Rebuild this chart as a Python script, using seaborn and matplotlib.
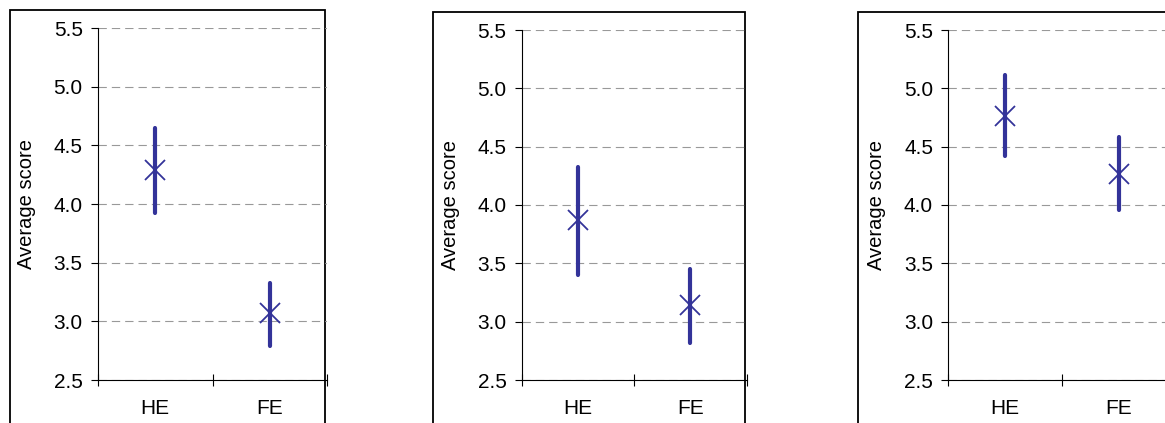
import matplotlib
matplotlib.use("Agg")
import matplotlib.pyplot as plt
from matplotlib.patches import Rectangle
from matplotlib.ticker import FixedLocator
import seaborn as sns
import pandas as pd

categories = ["HE", "FE"]
p1_mean = [4.29, 3.07]
p1_low = [3.92, 2.79]
p1_high = [4.65, 3.33]
p2_mean = [3.87, 3.14]
p2_low = [3.40, 2.82]
p2_high = [4.33, 3.45]
p3_mean = [4.76, 4.27]
p3_low = [4.42, 3.96]
p3_high = [5.11, 4.58]
y_ticks = [2.5, 3.0, 3.5, 4.0, 4.5, 5.0, 5.5]
y_label = "Average score"

panels = [(p1_mean, p1_low, p1_high), (p2_mean, p2_low, p2_high), (p3_mean, p3_low, p3_high)]

sns.set_theme(style="white")
plt.rcParams["font.family"] = ["Liberation Sans", "DejaVu Sans"]
plt.rcParams["lines.scale_dashes"] = False

W, H = 1165, 423
fig = plt.figure(figsize=(W / 100, H / 100), dpi=100)
fig.patch.set_facecolor("white")

# axes boxes in pixels: left, top, right, bottom
boxes = [(98, 28, 327, 380), (521.7, 30, 746.7, 380), (948.3, 30, 1176, 380)]
frames = [(10, 10, 325), (433, 12, 745), (857.7, 12, 1180)]
color = "#333399"

for (mean, low, high), (l, t, r, b), (fl, ft, fr) in zip(panels, boxes, frames):
    fig.add_artist(Rectangle((fl / W, -0.1), (fr - fl) / W, (H - ft) / H + 0.1,
                             transform=fig.transFigure, fill=False, lw=1.3,
                             ec="black", zorder=0))
    ax = fig.add_axes([l / W, (H - b) / H, (r - l) / W, (b - t) / H])
    ax.set_facecolor("none")
    rows = []
    for c, m, lo, hi in zip(categories, mean, low, high):
        for v in (lo, m, hi):
            rows.append({"cat": c, "val": v})
    df = pd.DataFrame(rows)
    sns.pointplot(data=df, x="cat", y="val", order=categories, estimator="median",
                  errorbar=("pi", 100), color=color, markers="x", linestyles="none",
                  markersize=15, markeredgewidth=1.3,
                  err_kws={"linewidth": 3.0, "solid_capstyle": "round"}, ax=ax,
                  zorder=3)
    ax.set_xlim(-0.5, 1.5)
    ax.set_ylim(2.5, 5.5)
    ax.set_yticks(y_ticks)
    ax.set_yticklabels([f"{v:.1f}" for v in y_ticks])
    ax.set_xticks([0, 1])
    ax.set_xticklabels(categories)
    ax.xaxis.set_minor_locator(FixedLocator([-0.5, 0.5, 1.5]))
    ax.tick_params(axis="x", which="major", length=0, pad=14, labelsize=15, colors="black")
    ax.tick_params(axis="x", which="minor", direction="inout", length=9, width=0.8,
                   color="black", bottom=True)
    ax.tick_params(axis="y", which="major", direction="out", length=5, width=0.8,
                   pad=6, labelsize=15, colors="black", left=True)
    ax.yaxis.grid(True, color="#999999", linestyle=(0, (6, 3.6)), linewidth=0.8)
    ax.xaxis.grid(False)
    ax.set_axisbelow(True)
    for s in ["top", "right"]:
        ax.spines[s].set_visible(False)
    for s in ["left", "bottom"]:
        ax.spines[s].set_color("black")
        ax.spines[s].set_linewidth(0.8)
    ax.set_xlabel("")
    ax.set_ylabel(y_label, fontsize=14.5, color="black")
    ax.yaxis.set_label_coords(-62 / (r - l), 0.5)

fig.savefig("out.png", dpi=100)
